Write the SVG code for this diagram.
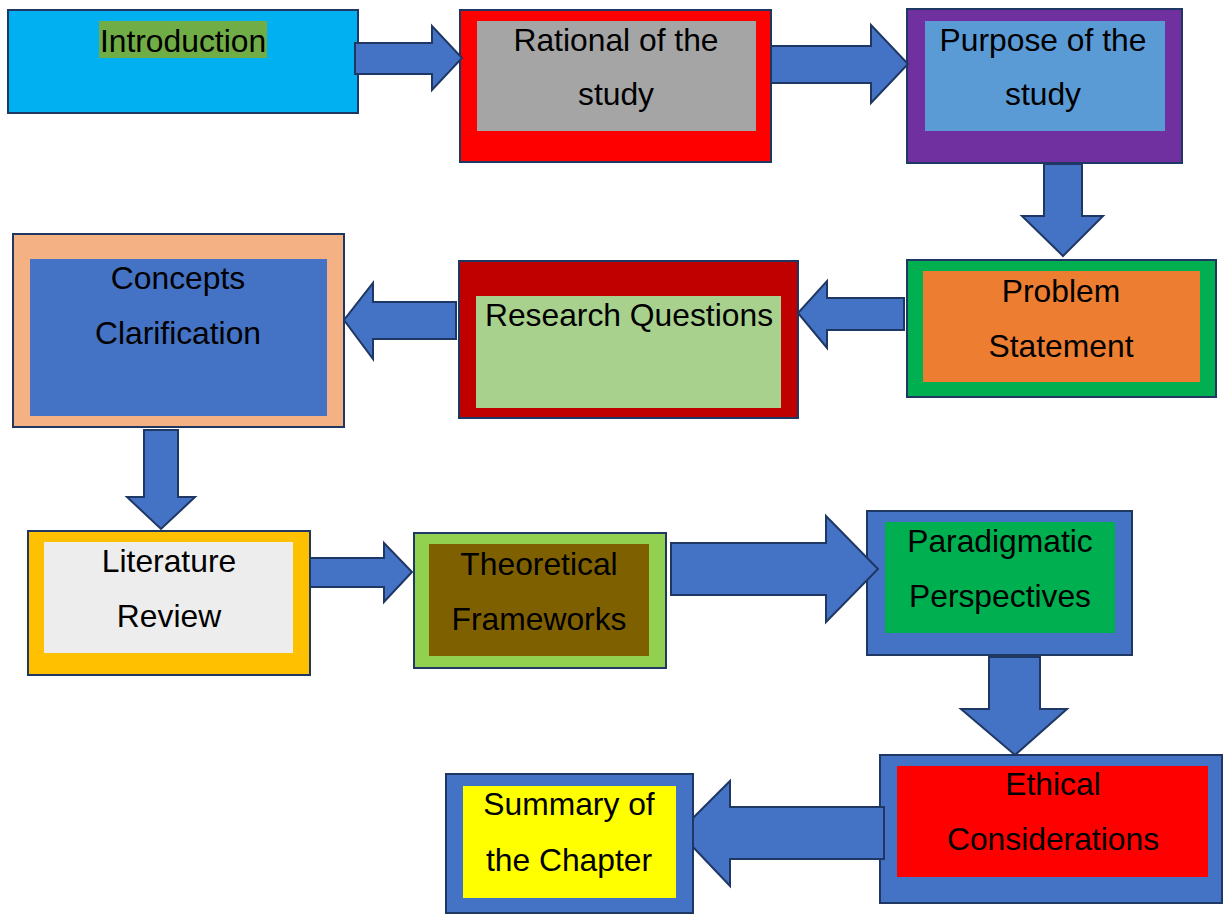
<svg xmlns="http://www.w3.org/2000/svg" width="1223" height="915" viewBox="0 0 1223 915">
  <style>
    .frame { stroke: #1f3763; stroke-width: 2; }
    .arrow { fill: #4472c4; stroke: #1f3763; stroke-width: 2; stroke-linejoin: miter; }
    .label { font-family: "Liberation Sans", Arial, sans-serif; font-size: 31.8px; fill: #000; text-anchor: middle; }
  </style>
  <rect width="1223" height="915" fill="#ffffff"/>

  <!-- Nodes -->
  <g id="introduction">
    <rect class="frame" x="8" y="10" width="350" height="103" fill="#00b0f0"/>
    <rect x="99" y="21" width="168" height="37" fill="#70ad47"/>
    <text class="label" x="183" y="52">Introduction</text>
  </g>

  <g id="rational">
    <rect class="frame" x="460" y="10" width="311" height="152" fill="#ff0000"/>
    <rect x="477" y="21" width="279" height="110" fill="#a5a5a5"/>
    <text class="label" x="616" y="51">Rational of the</text>
    <text class="label" x="616" y="105">study</text>
  </g>

  <g id="purpose">
    <rect class="frame" x="907" y="9" width="275" height="154" fill="#7030a0"/>
    <rect x="925" y="21" width="240" height="110" fill="#5b9bd5"/>
    <text class="label" x="1043" y="51">Purpose of the</text>
    <text class="label" x="1043" y="105">study</text>
  </g>

  <g id="problem">
    <rect class="frame" x="907" y="260" width="309" height="137" fill="#00b050"/>
    <rect x="923" y="271" width="277" height="111" fill="#ed7d31"/>
    <text class="label" x="1061" y="302">Problem</text>
    <text class="label" x="1061" y="357">Statement</text>
  </g>

  <g id="research">
    <rect class="frame" x="459" y="261" width="339" height="157" fill="#c00000"/>
    <rect x="476" y="296" width="305" height="112" fill="#a9d18e"/>
    <text class="label" x="629" y="326">Research Questions</text>
  </g>

  <g id="concepts">
    <rect class="frame" x="13" y="234" width="331" height="193" fill="#f4b183"/>
    <rect x="30" y="259" width="297" height="157" fill="#4472c4"/>
    <text class="label" x="178" y="289">Concepts</text>
    <text class="label" x="178" y="344">Clarification</text>
  </g>

  <g id="literature">
    <rect class="frame" x="28" y="531" width="282" height="144" fill="#ffc000"/>
    <rect x="44" y="542" width="249" height="111" fill="#ededed"/>
    <text class="label" x="169" y="572">Literature</text>
    <text class="label" x="169" y="627">Review</text>
  </g>

  <g id="theoretical">
    <rect class="frame" x="414" y="533" width="252" height="135" fill="#92d050"/>
    <rect x="429" y="544" width="220" height="112" fill="#7f6000"/>
    <text class="label" x="539" y="575">Theoretical</text>
    <text class="label" x="539" y="630">Frameworks</text>
  </g>

  <g id="paradigmatic">
    <rect class="frame" x="867" y="511" width="265" height="144" fill="#4472c4"/>
    <rect x="885" y="522" width="230" height="111" fill="#00b050"/>
    <text class="label" x="1000" y="552">Paradigmatic</text>
    <text class="label" x="1000" y="607">Perspectives</text>
  </g>

  <g id="ethical">
    <rect class="frame" x="880" y="755" width="342" height="148" fill="#4472c4"/>
    <rect x="897" y="766" width="311" height="111" fill="#ff0000"/>
    <text class="label" x="1053" y="795">Ethical</text>
    <text class="label" x="1053" y="850">Considerations</text>
  </g>

  <g id="summary">
    <rect class="frame" x="446" y="774" width="247" height="139" fill="#4472c4"/>
    <rect x="463" y="786" width="213" height="112" fill="#ffff00"/>
    <text class="label" x="569" y="815">Summary of</text>
    <text class="label" x="569" y="871">the Chapter</text>
  </g>

  <!-- Block arrows between steps -->
  <g id="connectors">
    <polygon class="arrow" points="355,43 432,43 432,26 462,58 432,90 432,74 355,74"/>
    <polygon class="arrow" points="771,46 871,46 871,25 908,64 871,103 871,83 771,83"/>
    <polygon class="arrow" points="1044,164 1082,164 1082,216 1103,216 1063,256 1022,216 1044,216"/>
    <polygon class="arrow" points="904,298 827,298 827,281 798,313 827,348 827,330 904,330"/>
    <polygon class="arrow" points="456,302 373,302 373,283 344,320 373,359 373,339 456,339"/>
    <polygon class="arrow" points="144,430 178,430 178,497 195,497 161,529 127,497 144,497"/>
    <polygon class="arrow" points="310,558 384,558 384,543 412,572 384,602 384,587 310,587"/>
    <polygon class="arrow" points="671,543 826,543 826,516 878,569 826,622 826,595 671,595"/>
    <polygon class="arrow" points="989,657 1040,657 1040,709 1067,709 1015,755 961,709 989,709"/>
    <polygon class="arrow" points="884,807 730,807 730,781 693,818 693,847 730,886 730,859 884,859"/>
  </g>
</svg>
